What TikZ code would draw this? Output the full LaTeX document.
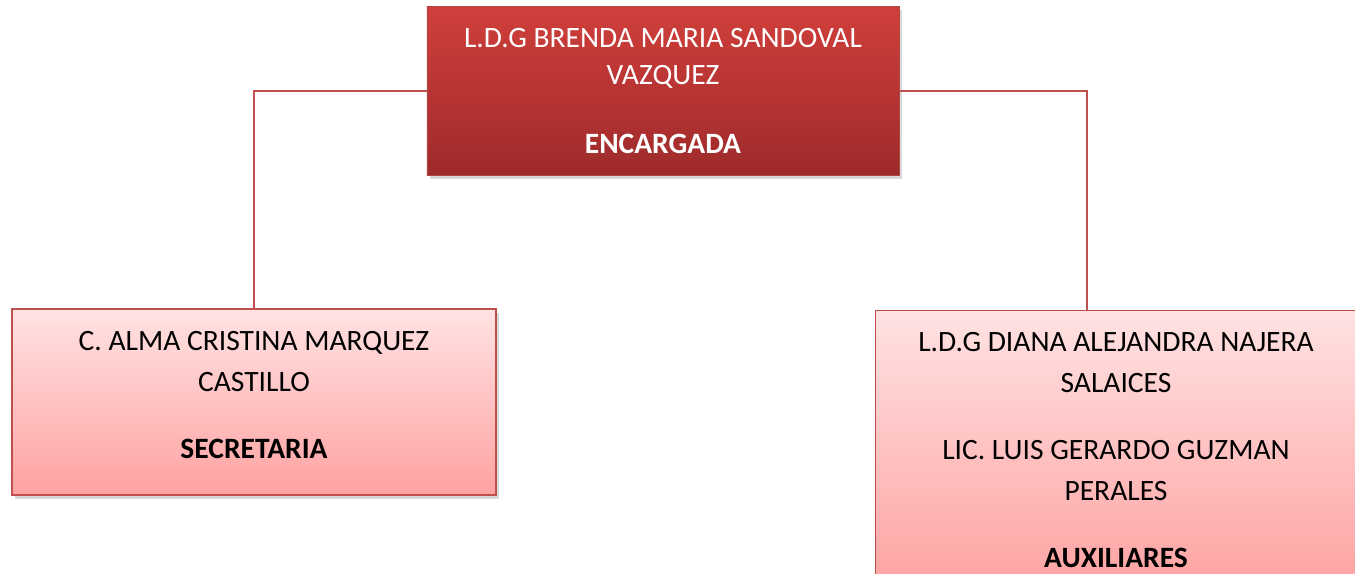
\documentclass[tikz,border=0pt]{standalone}
\usepackage{fontspec}
\setmainfont{Carlito}
\usetikzlibrary{shadows}
\definecolor{rojoalto}{HTML}{D03F3B}
\definecolor{rojobajo}{HTML}{9E2A2B}
\definecolor{rosaalto}{HTML}{FFE2E2}
\definecolor{rosabajo}{HTML}{FFA2A2}
\definecolor{borde}{HTML}{C0504D}
\begin{document}
\begin{tikzpicture}[x=0.2mm, y=-0.2mm,
    jefe/.style={rectangle, draw=borde!90!black, top color=rojoalto, bottom color=rojobajo,
        minimum width=94.4mm, minimum height=33.8mm, align=center, text=white,
        font=\fontsize{16.8}{21.4}\selectfont,
        drop shadow={shadow xshift=1.5pt, shadow yshift=-2pt, opacity=0.3}},
    area/.style={rectangle, draw=borde, thick, top color=rosaalto, bottom color=rosabajo,
        minimum width=96.8mm, align=center, text=black,
        font=\fontsize{16.8}{23.3}\selectfont,
        drop shadow={shadow xshift=1.5pt, shadow yshift=-2pt, opacity=0.3}},
    linea/.style={draw=borde, line width=0.7pt}
]
    % recorte al tamano de la figura
    \clip (0,0) rectangle (1355,574);

    % Cajas
    \node[jefe] (encargada) at (663,91) {L.D.G BRENDA MARIA SANDOVAL\\ VAZQUEZ\\[6.2mm] \textbf{ENCARGADA}};
    \node[area, minimum height=37.2mm, text depth=2.8mm] (secretaria) at (254,402) {C. ALMA CRISTINA MARQUEZ\\ CASTILLO\\[5.2mm] \textbf{SECRETARIA}};
    \node[area, minimum width=96.2mm, minimum height=55.8mm] (auxiliares) at (1116,450)
        {L.D.G DIANA ALEJANDRA NAJERA\\ SALAICES\\[5.2mm] LIC. LUIS GERARDO GUZMAN\\ PERALES\\[5.2mm] \textbf{AUXILIARES}};

    % Lineas
    \coordinate (bajada) at (1087,311);
    \draw[linea] (encargada.west) -| (secretaria.north);
    \draw[linea] (encargada.east) -| (bajada);
\end{tikzpicture}
\end{document}
